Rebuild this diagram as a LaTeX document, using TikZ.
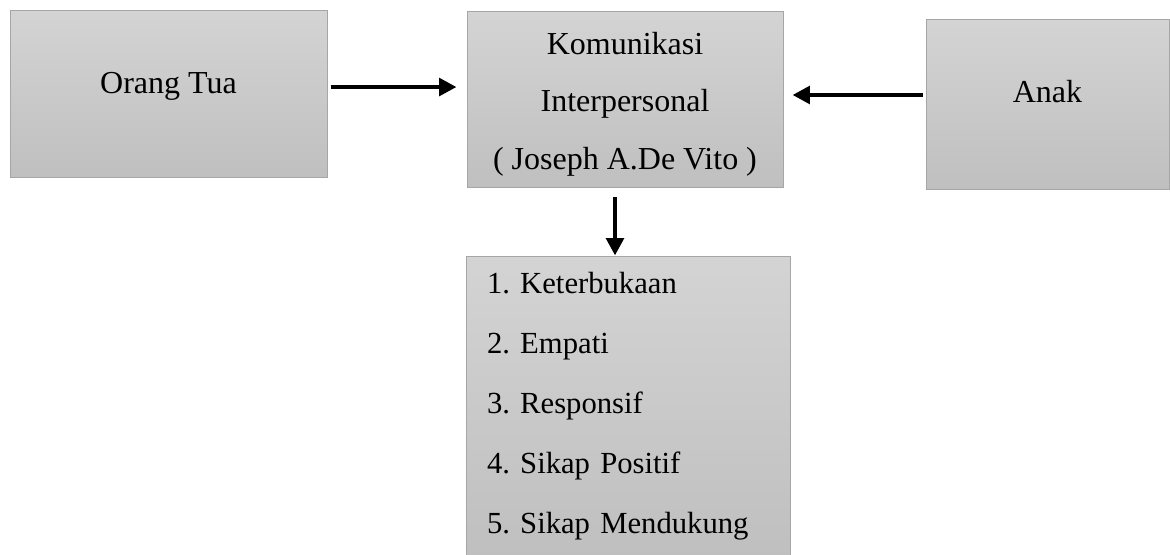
\documentclass[tikz,border=0pt]{standalone}
\usepackage{fontspec}
\setmainfont{Liberation Serif}
\usepackage{tikz}
\usetikzlibrary{arrows.meta}
\newcommand\listfont{\fontsize{23}{45}\selectfont\frenchspacing\spaceskip=5.75pt\relax}
\tikzset{
  block/.style={draw=black!35,line width=0.75pt,top color=black!17,bottom color=black!25,inner sep=0pt,font=\fontsize{24}{43}\selectfont},
  link/.style={line width=3.2pt,draw=black,-{Triangle[length=13pt,width=13pt]}}
}

\begin{document}
\begin{tikzpicture}[x=0.75pt,y=-0.75pt]
      \useasboundingbox (0,0) rectangle (1170,555);
      \node[block,minimum width=237.75pt,minimum height=125.25pt,text height=10pt,text depth=12pt] (ortu) at (168.5,94.5) {Orang Tua};
      \node[block,minimum width=237pt,minimum height=132pt,align=center] (kom) at (625,100) {\rule{0pt}{23pt}Komunikasi\\Interpersonal\\( Joseph A.De Vito )};
      \node[block,minimum width=182.25pt,minimum height=127.5pt,text height=10pt,text depth=13pt] (anak) at (1047.5,105) {Anak};
      \node[block,minimum width=243pt,minimum height=224.25pt,inner xsep=15.75pt,text width=211.5pt,align=left,font=\listfont] (ciri) at (628,406.5)
        {1. Keterbukaan\\2. Empati\\3. Responsif\\4. Sikap Positif\\5. Sikap Mendukung};
      \draw[link,shorten <=2.25pt,shorten >=7.5pt] ([yshift=5.6pt]ortu.east) -- ([yshift=5.6pt]ortu.east -| kom.west);
      \draw[link,shorten <=2.25pt,shorten >=6.75pt] ([yshift=7.5pt]anak.west) -- ([yshift=7.5pt]anak.west -| kom.east);
      \draw[link,shorten <=6.75pt,shorten >=0.75pt] ([xshift=-7.5pt]kom.south) -- ([xshift=-7.5pt]kom.south |- ciri.north);
    \end{tikzpicture}
\end{document}
